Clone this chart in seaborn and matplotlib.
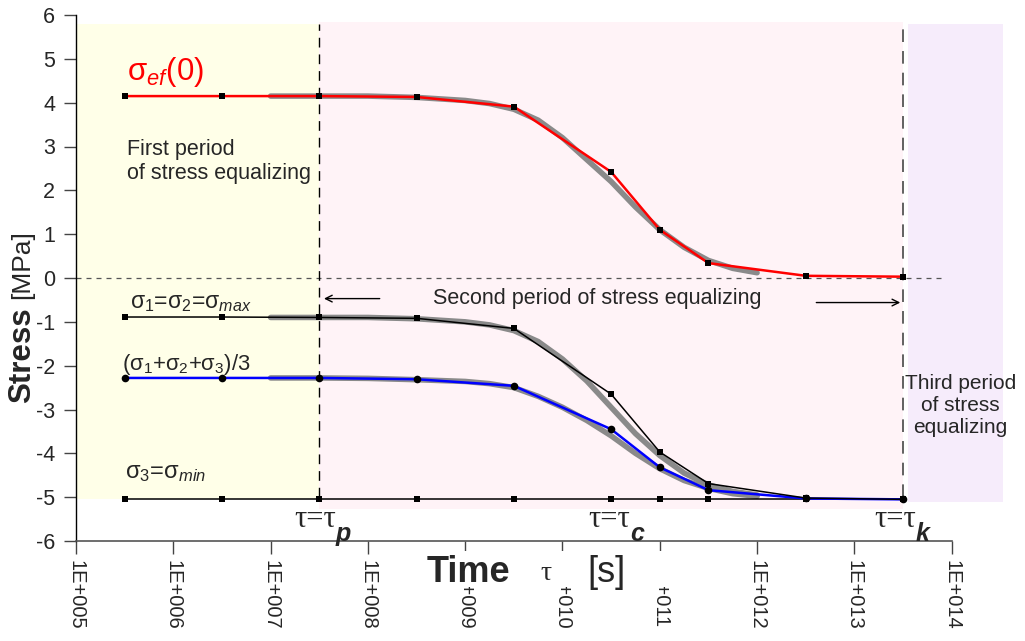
import numpy as np
import pandas as pd
import seaborn as sns
import matplotlib
matplotlib.use("Agg")
import matplotlib.pyplot as plt
from matplotlib.patches import Rectangle

# ---------------- data ----------------
log_t = [5.5, 6.5, 7.5, 8.5, 9.5, 10.5, 11.0, 11.5, 12.5, 13.5]
sigma_ef = [4.15, 4.15, 4.15, 4.13, 3.91, 2.42, 1.10, 0.34, 0.05, 0.03]
sigma_max = [-0.89, -0.89, -0.90, -0.92, -1.15, -2.65, -3.97, -4.69, -5.02, -5.05]
sigma_mean = [-2.28, -2.28, -2.28, -2.31, -2.46, -3.45, -4.32, -4.84, -5.03, -5.05]
sigma_min = [-5.05, -5.05, -5.05, -5.05, -5.05, -5.05, -5.05, -5.05, -5.05, -5.05]

# grey smooth (fitted) curves
fit_t = [7.0, 7.5, 8.0, 8.5, 9.0, 9.25, 9.5, 9.75, 10.0, 10.25, 10.5, 10.75,
         11.0, 11.25, 11.5, 11.75, 12.0]
fit_ef = [4.15, 4.15, 4.15, 4.12, 4.05, 3.98, 3.85, 3.60, 3.20, 2.70, 2.20,
          1.62, 1.10, 0.70, 0.40, 0.22, 0.12]
fit_max = [-0.90, -0.90, -0.90, -0.93, -1.00, -1.07, -1.20, -1.45, -1.85,
           -2.35, -2.95, -3.55, -4.05, -4.45, -4.72, -4.87, -4.95]
fit_mean = [-2.28, -2.28, -2.29, -2.32, -2.36, -2.41, -2.50, -2.70, -2.95,
            -3.25, -3.60, -4.00, -4.35, -4.62, -4.80, -4.92, -4.98]

xtick_pos = list(range(5, 15))
xtick_labels = ["1E+%03d" % p for p in xtick_pos]
ytick_pos = list(range(-6, 7))

# ---------------- figure ----------------
sns.set_theme(style="white")
plt.rcParams['font.family'] = ['Liberation Sans', 'DejaVu Sans']
plt.rcParams['mathtext.fontset'] = 'custom'
plt.rcParams['mathtext.rm'] = 'Liberation Sans'
plt.rcParams['mathtext.it'] = 'Liberation Sans:italic'
plt.rcParams['mathtext.bf'] = 'Liberation Sans:bold'

W, H = 1025, 641
fig = plt.figure(figsize=(10.25, 6.41), dpi=100)
ax = fig.add_axes([76 / W, 1 - 541 / H, (97.3 * 9.55) / W, (541 - 15) / H])

ax.set_xlim(5, 14.55)
ax.set_ylim(-6, 6)

# background period regions
ax.fill_between([5, 7.5], -5.05, 5.8, color="#ffffe8", zorder=0, lw=0)
ax.fill_between([7.5, 13.5], -5.27, 5.85, color="#fff3f7", zorder=0, lw=0)
ax.fill_between([13.55, 14.53], -5.1, 5.8, color="#f6ecfb", zorder=0, lw=0)

# zero line and period boundaries
ax.plot([5, 13.9], [0, 0], ls=(0, (4, 4)), color="#555555", lw=0.9, zorder=1)
ax.plot([7.5, 7.5], [-5.0, 5.8], ls=(0, (7, 5)), color="black", lw=1.0, zorder=1)
ax.plot([13.5, 13.5], [-5.0, 5.8], ls=(0, (7, 5)), color="#555555", lw=1.3, zorder=1)

# grey fitted curves
for fy in (fit_ef, fit_max, fit_mean):
    sns.lineplot(x=fit_t, y=fy, ax=ax, color="#8a8a8a", lw=4.0, zorder=2,
                 estimator=None, sort=False)

# data series
sns.lineplot(x=log_t, y=sigma_min, ax=ax, color="black", lw=1.1, marker="s",
             markersize=5, markeredgewidth=0, markerfacecolor="black", zorder=3,
             estimator=None, sort=False)
sns.lineplot(x=log_t, y=sigma_mean, ax=ax, color="#0000ff", lw=1.8, marker="o",
             markersize=5.5, markeredgewidth=0, markerfacecolor="black", zorder=4,
             estimator=None, sort=False)
sns.lineplot(x=log_t, y=sigma_max, ax=ax, color="black", lw=1.1, marker="s",
             markersize=5, markeredgewidth=0, markerfacecolor="black", zorder=5,
             estimator=None, sort=False)
sns.lineplot(x=log_t, y=sigma_ef, ax=ax, color="#ff0000", lw=1.8, marker="s",
             markersize=5, markeredgewidth=0, markerfacecolor="black", zorder=5,
             estimator=None, sort=False)

# axes styling
for s in ("top", "right"):
    ax.spines[s].set_visible(False)
ax.spines["left"].set_color("black")
ax.spines["bottom"].set_color("#555555")
ax.spines["left"].set_linewidth(1.0)
ax.spines["bottom"].set_linewidth(1.2)
ax.spines["bottom"].set_bounds(5, 14)
ax.set_xticks(xtick_pos)
ax.set_xticklabels(xtick_labels, rotation=-90, fontsize=14.5, va="top", ha="center")
ax.set_yticks(ytick_pos)
ax.set_yticklabels([str(v) for v in ytick_pos], fontsize=15.5)
ax.tick_params(axis="both", which="major", direction="out", length=9, width=1,
               bottom=True, left=True, color="#444444")
ax.tick_params(axis="x", pad=5)
ax.tick_params(axis="y", pad=6)
ax.set_xlabel("")
ax.set_ylabel("")

# y-axis label
fig.text(22 / W, 1 - 355 / H, "Stress", rotation=90, fontsize=22.5,
         fontweight="bold", ha="center", va="center")
fig.text(22 / W, 1 - 265 / H, "[MPa]", rotation=90, fontsize=19,
         ha="center", va="center")

# x-axis label over a white patch that hides part of the tick labels
fig.add_artist(Rectangle((420 / W, 1 - 587 / H), 255 / W, 36 / H,
                         transform=fig.transFigure, facecolor="white",
                         edgecolor="none", zorder=9))
fig.text(468 / W, 1 - 572 / H, "Time", fontsize=26, fontweight="bold",
         ha="center", va="center", zorder=10)
fig.text(546 / W, 1 - 574 / H, "τ", fontsize=20, family="Liberation Serif",
         ha="center", va="center", zorder=10)
fig.text(606 / W, 1 - 572 / H, "[s]", fontsize=26,
         ha="center", va="center", zorder=10)

# annotations
ax.text(5.52, 4.7, r"σ$_{\mathit{ef}}$(0)", color="#ff0000", fontsize=22.5,
        ha="left", va="center")
ax.text(5.52, 2.65, "First period\nof stress equalizing", fontsize=15.5,
        ha="left", va="center", linespacing=1.2)
ax.text(5.55, -0.55, r"σ$_{\mathit{1}}$=σ$_{\mathit{2}}$=σ$_{\mathit{max}}$",
        fontsize=16.5, ha="left", va="center")
ax.text(5.47, -1.97, r"(σ$_{\mathit{1}}$+σ$_{\mathit{2}}$+σ$_{\mathit{3}}$)/3",
        fontsize=15.8, ha="left", va="center")
ax.text(5.5, -4.45, r"σ$_{\mathit{3}}$=σ$_{\mathit{min}}$",
        fontsize=17, ha="left", va="center")
ax.text(10.36, -0.47, "Second period of stress equalizing", fontsize=15.5,
        ha="center", va="center")
ax.text(14.09, -2.9, "Third period\nof stress\nequalizing", fontsize=15,
        ha="center", va="center", linespacing=1.2)

ax.annotate("", xy=(7.52, -0.47), xytext=(8.15, -0.47),
            arrowprops=dict(arrowstyle="->", color="black", lw=1.0))
ax.annotate("", xy=(13.5, -0.56), xytext=(12.58, -0.56),
            arrowprops=dict(arrowstyle="->", color="black", lw=1.0))

# tau markers
for xt, sub in ((7.24, "p"), (10.27, "c"), (13.2, "k")):
    t1 = ax.text(xt, -5.5, "τ=τ", fontsize=22, family="Liberation Serif",
                 ha="left", va="center")
    ax.annotate(sub, xy=(1.0, 0.0), xycoords=t1, fontsize=18,
                fontweight="bold", fontstyle="italic", ha="left", va="center")

fig.savefig("out.png", dpi=100)
